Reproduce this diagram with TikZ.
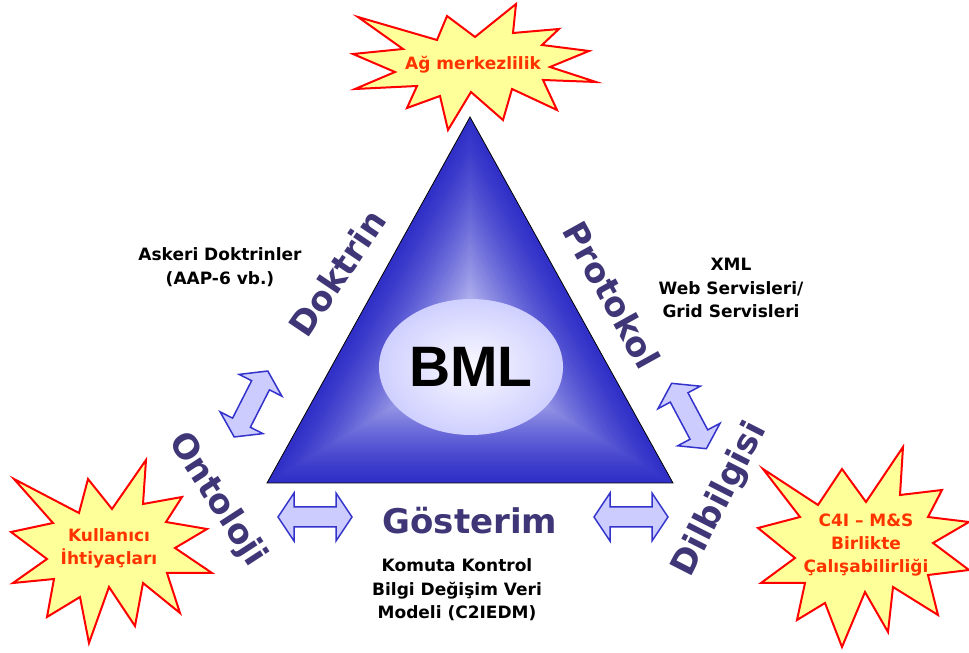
\documentclass[tikz,border=0pt]{standalone}
\usepackage{fontspec}
\setmainfont{DejaVu Sans}
\newfontfamily\arialfont{Liberation Sans}
\usetikzlibrary{shapes.geometric,calc}

\definecolor{slate}{RGB}{62,54,118}
\definecolor{burstred}{RGB}{255,51,0}
\definecolor{burstline}{RGB}{255,0,0}
\definecolor{burstyellow}{RGB}{255,255,153}
\definecolor{deepblue}{RGB}{48,48,200}
\definecolor{paleblue}{RGB}{236,236,255}
\definecolor{arrowline}{RGB}{51,51,204}
\definecolor{arrowfill}{RGB}{204,204,255}

\tikzset{
    burst/.style={draw=burstline, fill=burstyellow, line width=2pt},
    burstlabel/.style={text=burstred, font=\fontsize{17}{23}\selectfont\bfseries, align=center, inner sep=0pt},
    sidelabel/.style={text=slate, font=\fontsize{34}{40}\selectfont\bfseries, inner sep=0pt, text depth=0pt},
    notes/.style={font=\fontsize{17}{23.5}\selectfont\bfseries, align=center, inner sep=0pt},
    dblarrow/.pic={
        \filldraw[draw=arrowline, fill=arrowfill, line width=1.5pt]
            (-37,0) -- (-21,24) -- (-21,10) -- (21,10) -- (21,24) -- (37,0)
            -- (21,-24) -- (21,-10) -- (-21,-10) -- (-21,-24) -- cycle;
    }
}

\begin{document}
\begin{tikzpicture}[x=1pt, y=1pt]
        \useasboundingbox (0,0) rectangle (969,653);

        \coordinate (apex) at (470,536);
        \coordinate (bl) at (267,170);
        \coordinate (br) at (673,170);
        \coordinate (ctr) at (470,292);

        % triangle, lighter towards the middle
        \foreach \k in {60,59,...,1} {
            \pgfmathsetmacro\s{\k/60}
            \pgfmathsetmacro\lt{100*(1-\s)^1.3}
            \fill[paleblue!\lt!deepblue] ($(ctr)!\s!(apex)$) -- ($(ctr)!\s!(bl)$) -- ($(ctr)!\s!(br)$) -- cycle;
        }
        \draw[black, line width=0.8pt] (apex) -- (bl) -- (br) -- cycle;

        \node[ellipse, minimum width=162pt, minimum height=136pt, inner color=white!70!paleblue, outer color=arrowfill!90!paleblue,
              font=\arialfont\fontsize{57}{60}\selectfont\bfseries] (bml) at (471,286) {BML};

        \node[sidelabel, rotate=56] (doktrin) at (337,380) {Doktrin};
        \node[sidelabel, rotate=-61] (protokol) at (612,358) {Protokol};
        \node[sidelabel, rotate=-57] (ontoloji) at (220,155) {Ontoloji};
        \node[sidelabel, rotate=63] (dilbilgisi) at (717,155) {Dilbilgisi};
        \node[sidelabel] (gosterim) at (470,133) {Gösterim};

        \node[notes] (askeri) at (220,386) {Askeri Doktrinler\\(AAP-6 vb.)};
        \node[notes] (xml) at (731,365) {XML\\Web Servisleri/\\Grid Servisleri};
        \node[notes] (komuta) at (457,63) {Komuta Kontrol\\Bilgi Değişim Veri\\Modeli (C2IEDM)};

        \coordinate (arrl) at (251,249);
        \coordinate (arrr) at (689,237);
        \coordinate (arrbl) at (315,136);
        \coordinate (arrbr) at (631,136);
        \pic[rotate=63] at (arrl) {dblarrow};
        \pic[rotate=-62] at (arrr) {dblarrow};
        \pic at (arrbl) {dblarrow};
        \pic at (arrbr) {dblarrow};

        \draw[burst] (358,636) -- (437,613) -- (447,637) -- (475,616) -- (516,649) -- (513,620)
            -- (559,624) -- (542,608) -- (589,602) -- (550,586) -- (596,571) -- (543,573)
            -- (557,543) -- (512,564) -- (503,533) -- (471,561) -- (448,523) -- (440,557)
            -- (407,545) -- (417,567) -- (355,564) -- (395,581) -- (353,599) -- (403,604) -- cycle;
        \node[burstlabel] (agm) at (473,588) {Ağ merkezlilik};

        \draw[burst] (14,174) -- (79,140) -- (88,174) -- (112,144) -- (146,193) -- (143,149)
            -- (182,156) -- (166,131) -- (207,124) -- (175,105) -- (212,80) -- (167,80)
            -- (180,40) -- (143,70) -- (135,27) -- (109,66) -- (89,10) -- (80,56)
            -- (47,36) -- (54,74) -- (13,70) -- (47,94) -- (11,121) -- (53,130) -- cycle;
        \node[burstlabel] (kullanici) at (109,105) {Kullanıcı\\İhtiyaçları};

        \draw[burst] (763,184) -- (818,148) -- (842,184) -- (866,151) -- (903,206) -- (900,158)
            -- (942,163) -- (928,136) -- (969,131) -- (933,110) -- (969,83) -- (928,78)
            -- (938,38) -- (893,66) -- (888,21) -- (865,61) -- (842,6) -- (825,50)
            -- (797,33) -- (805,70) -- (761,70) -- (795,95) -- (758,125) -- (800,136) -- cycle;
        \node[burstlabel] (c4i) at (866,108) {C4I – M\&S\\Birlikte\\Çalışabilirliği};
\end{tikzpicture}
\end{document}
